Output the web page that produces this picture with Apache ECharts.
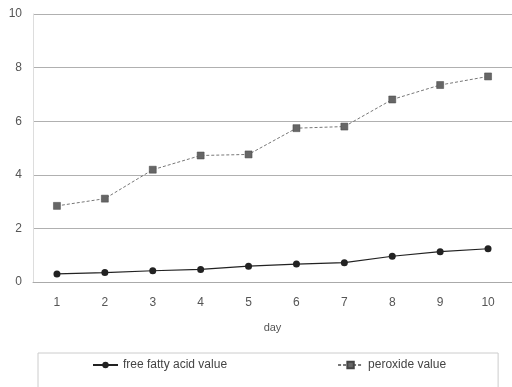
<!DOCTYPE html>
<html><head><meta charset="utf-8">
<script src="https://cdn.jsdelivr.net/npm/echarts@6/dist/echarts.min.js"></script>
<style>html,body{margin:0;padding:0;background:#fff}#c{width:512px;height:387px}</style>
</head><body><div id="c"></div>
<script>
var days = ['1','2','3','4','5','6','7','8','9','10'];
var freeFattyAcid = [0.30, 0.35, 0.42, 0.47, 0.59, 0.67, 0.72, 0.96, 1.13, 1.24];
var peroxide = [2.84, 3.11, 4.19, 4.72, 4.76, 5.74, 5.80, 6.81, 7.35, 7.67];
var chart = echarts.init(document.getElementById('c'));
chart.setOption({
  animation: false,
  textStyle: {fontFamily: 'Liberation Sans, Arial, sans-serif', color: '#555'},
  grid: {left: 33, right: -2, top: 14, bottom: 105},
  xAxis: {
    type: 'category', data: days, boundaryGap: true,
    name: 'day', nameLocation: 'middle', nameGap: 40,
    nameTextStyle: {fontSize: 11, color: '#555'},
    axisLine: {lineStyle: {color: '#aaa'}},
    axisTick: {show: false},
    axisLabel: {fontSize: 12, color: '#555', margin: 15}
  },
  yAxis: {
    type: 'value', min: 0, max: 10, interval: 2,
    axisLine: {show: true, lineStyle: {color: '#ddd'}},
    axisTick: {show: false},
    axisLabel: {fontSize: 12, color: '#555', margin: 11},
    splitLine: {lineStyle: {color: '#b0b0b0', width: 1}}
  },
  legend: {
    top: 353, left: 38, width: 459,
    padding: [6, 52, 18, 54],
    itemGap: 110, itemWidth: 25, itemHeight: 8,
    borderColor: '#ccc', borderWidth: 1,
    textStyle: {fontSize: 12, color: '#444'},
    data: ['free fatty acid value', 'peroxide value']
  },
  series: [
    {
      name: 'free fatty acid value', type: 'line', data: freeFattyAcid,
      symbol: 'circle', symbolSize: 7,
      itemStyle: {color: '#222'},
      lineStyle: {color: '#222', width: 1.2}
    },
    {
      name: 'peroxide value', type: 'line', data: peroxide,
      symbol: 'rect', symbolSize: 7,
      itemStyle: {color: '#666', borderColor: '#444', borderWidth: 0.5},
      lineStyle: {color: '#777', width: 1, type: [3, 2]}
    }
  ]
});
</script></body></html>
